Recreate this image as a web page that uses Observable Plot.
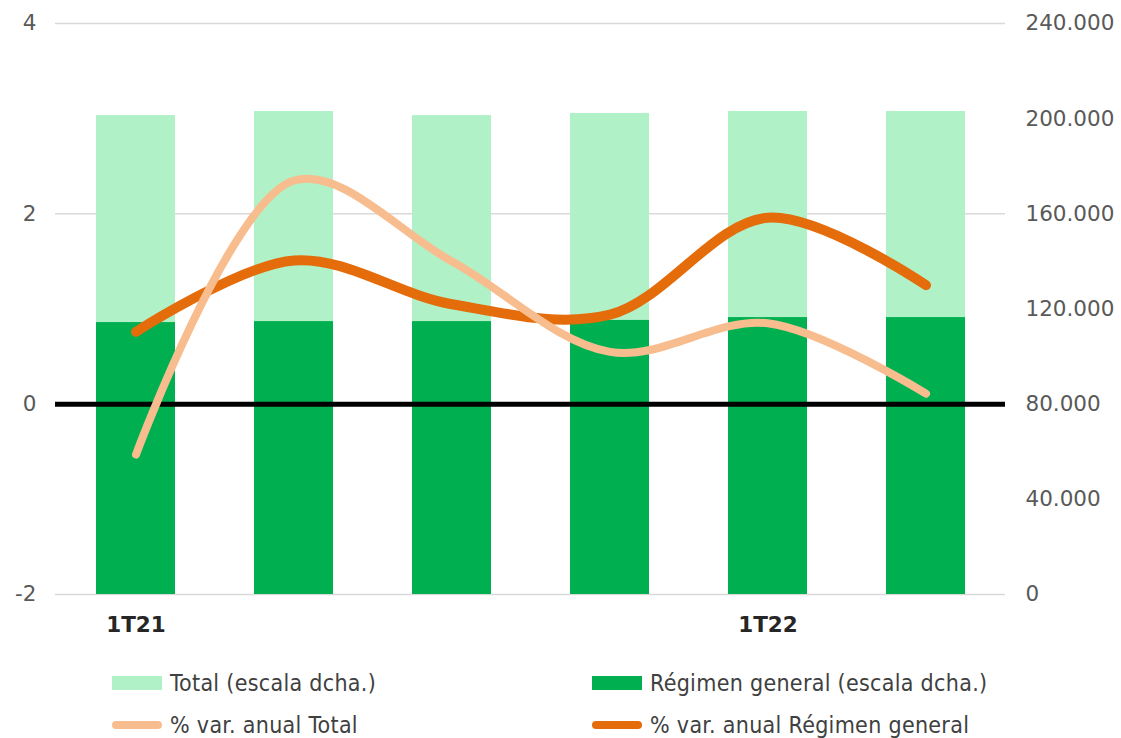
<!DOCTYPE html>
<html>
<head>
<meta charset="utf-8">
<script src="https://cdn.jsdelivr.net/npm/d3@7"></script>
<script src="https://cdn.jsdelivr.net/npm/@observablehq/plot@0.6"></script>
<style>
  html, body { margin: 0; padding: 0; background: #fff; }
  #wrap { position: relative; width: 1121px; height: 738px; overflow: hidden; font-family: "DejaVu Sans", Verdana, sans-serif; }
  #chart svg { display: block; }
  .leg { position: absolute; display: flex; align-items: center; font-family: "DejaVu Sans Condensed", "DejaVu Sans", sans-serif; font-stretch: condensed; font-size: 23px; letter-spacing: 0.3px; color: #404040; white-space: nowrap; height: 26px; }
  .sw { width: 50px; height: 14px; margin-right: 8px; }
  .ln { width: 50px; height: 8px; border-radius: 4px; margin-right: 8px; }
</style>
</head>
<body>
<div id="wrap">
  <div id="chart"></div>
  <div id="legend"></div>
</div>
<script>
// ---- Data ----
const quarters = ["1T21", "2T21", "3T21", "4T21", "1T22", "2T22"];
const tickLabels = ["1T21", "1T22"];
const totalAfiliados = [201300, 203000, 201300, 202200, 203000, 203000];      // escala dcha.
const regimenGeneral = [114300, 114700, 114700, 115200, 116400, 116400];      // escala dcha.
const varTotal = [-0.53, 2.35, 1.50, 0.55, 0.85, 0.11];                        // % var. anual
const varRegimen = [0.76, 1.51, 1.05, 0.94, 1.96, 1.25];                       // % var. anual
const leftTicks = [-2, 0, 2, 4];
const rightTicks = [0, 40000, 80000, 120000, 160000, 200000, 240000];

const colors = {
  total: "#b1f1c7",
  regimen: "#00b050",
  varTotal: "#f8bd8e",
  varRegimen: "#e46c0a"
};

// right scale (0..240000) mapped onto left scale (-2..4)
const toLeft = v => v / 40000 - 2;
const fmtRight = v => v === 0 ? "0" : d3.format(",")(v).replace(/,/g, ".");

const rows = quarters.map((q, i) => ({
  q,
  total: toLeft(totalAfiliados[i]),
  regimen: toLeft(regimenGeneral[i]),
  varTotal: varTotal[i],
  varRegimen: varRegimen[i]
}));

const chart = Plot.plot({
  width: 1121,
  height: 640,
  marginTop: 23,
  marginBottom: 46,
  marginLeft: 55,
  marginRight: 116,
  style: { fontFamily: "DejaVu Sans, Verdana, sans-serif", fontSize: "21.5px", color: "#595959", background: "#fff" },
  x: { domain: quarters, paddingInner: 0.5, paddingOuter: 0.25, axis: null },
  y: { domain: [-2, 4], axis: null },
  marks: [
    Plot.ruleY([-2, 2, 4], { stroke: "#d9d9d9", strokeWidth: 1.5 }),
    Plot.barY(rows, { x: "q", y1: -2, y2: "total", fill: colors.total }),
    Plot.barY(rows, { x: "q", y1: -2, y2: "regimen", fill: colors.regimen }),
    Plot.ruleY([0], { stroke: "#000", strokeWidth: 5 }),
    Plot.line(rows, { x: "q", y: "varRegimen", stroke: colors.varRegimen, strokeWidth: 10, curve: "catmull-rom", strokeLinecap: "round" }),
    Plot.line(rows, { x: "q", y: "varTotal", stroke: colors.varTotal, strokeWidth: 8, curve: "catmull-rom", strokeLinecap: "round" }),
    Plot.axisY(leftTicks, { anchor: "left", tickSize: 0, tickPadding: 19, fill: "#595959", label: null, tickFormat: d => String(d) }),
    Plot.axisY(rightTicks.map(toLeft), { anchor: "right", tickSize: 0, tickPadding: 20, fill: "#595959", label: null, tickFormat: d => fmtRight(Math.round((d + 2) * 40000)) }),
    Plot.axisX(tickLabels, { tickSize: 0, tickPadding: 22, fontWeight: "bold", fill: "#262626", label: null })
  ]
});
document.getElementById("chart").appendChild(chart);

// ---- Legend ----
const legendItems = [
  { label: "Total (escala dcha.)", color: colors.total, kind: "sw", left: 112, top: 670 },
  { label: "Régimen general (escala dcha.)", color: colors.regimen, kind: "sw", left: 592, top: 670 },
  { label: "% var. anual Total", color: colors.varTotal, kind: "ln", left: 112, top: 712 },
  { label: "% var. anual Régimen general", color: colors.varRegimen, kind: "ln", left: 592, top: 712 }
];
const leg = document.getElementById("legend");
for (const it of legendItems) {
  const d = document.createElement("div");
  d.className = "leg";
  d.style.left = it.left + "px";
  d.style.top = it.top + "px";
  const s = document.createElement("span");
  s.className = it.kind;
  s.style.background = it.color;
  d.appendChild(s);
  const t = document.createElement("span");
  t.textContent = it.label;
  d.appendChild(t);
  leg.appendChild(d);
}
</script>
</body>
</html>
